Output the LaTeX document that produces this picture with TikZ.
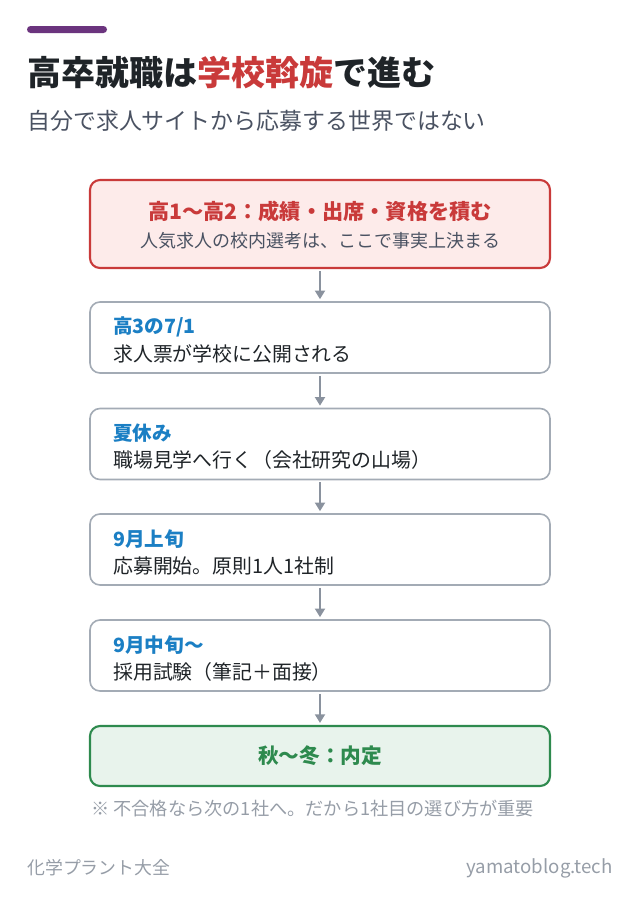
\documentclass[tikz,border=0pt]{standalone}
\usepackage{fontspec}
\setmainfont{Noto Sans CJK JP}
\usepackage{xcolor}
\usetikzlibrary{arrows.meta,positioning}

\definecolor{barpurple}{HTML}{6B347E}
\definecolor{inkdark}{HTML}{1F2428}
\definecolor{inkgray}{HTML}{4A5262}
\definecolor{accred}{HTML}{C93A3A}
\definecolor{redfill}{HTML}{FDEBEA}
\definecolor{boxgray}{HTML}{A3ABB5}
\definecolor{arrowgray}{HTML}{8A929E}
\definecolor{stepblue}{HTML}{1B7FC4}
\definecolor{accgreen}{HTML}{2E8A4E}
\definecolor{greenfill}{HTML}{E8F3EC}
\definecolor{notegray}{HTML}{969DA7}

\tikzset{
	stagebox/.style={draw=boxgray, line width=1.2pt, fill=white, rounded corners=7.5pt,
		minimum width=345pt, minimum height=53.25pt, inner sep=0pt},
	startbox/.style={stagebox, draw=accred, fill=redfill, line width=1.6pt, minimum height=66pt},
	endbox/.style={stagebox, draw=accgreen, fill=greenfill, line width=1.6pt, minimum height=45pt},
	stagehead/.style={anchor=west, inner sep=0pt, text=stepblue, font=\bfseries\fontsize{14.7}{17}\selectfont},
	stagetext/.style={anchor=west, inner sep=0pt, text=inkdark, font=\fontsize{14.9}{17}\selectfont},
	flow/.style={draw=arrowgray, line width=1.5pt, -{Triangle[width=7.5pt,length=6.5pt]}, shorten <=1.5pt, shorten >=1.5pt}
}

\begin{document}
\begin{tikzpicture}[x=0.75pt,y=-0.75pt]
	\useasboundingbox (0,0) rectangle (640,910);
	% heading
	\fill[barpurple, rounded corners=2.6pt] (27,26) rectangle (107,33);
	\node[anchor=west, inner sep=0pt, text=inkdark, font=\bfseries\fontsize{25.5}{30}\selectfont] (title) at (27,73)
		{高卒就職は{\color{accred}学校斡旋}で進む};
	\node[anchor=west, inner sep=0pt, text=inkgray, font=\fontsize{17.2}{20}\selectfont] (subtitle) at (27,121)
		{自分で求人サイトから応募する世界ではない};
	% stages
	\node[startbox] (b1) at (320,224) {};
	\node[inner sep=0pt, text=accred, font=\bfseries\fontsize{15.9}{18}\selectfont] (h1) at (320,211)
		{高1〜高2：成績・出席・資格を積む};
	\node[inner sep=0pt, text=inkgray, font=\fontsize{13.5}{16}\selectfont] (t1) at (320,241)
		{人気求人の校内選考は、ここで事実上決まる};
	\node[stagebox] (b2) at (320,337.5) {};
	\node[stagehead] (h2) at (113,327) {高3の7/1};
	\node[stagetext] (t2) at (113,354) {求人票が学校に公開される};
	\node[stagebox] (b3) at (320,444) {};
	\node[stagehead] (h3) at (113,433) {夏休み};
	\node[stagetext] (t3) at (113,460) {職場見学へ行く（会社研究の山場）};
	\node[stagebox] (b4) at (320,549.5) {};
	\node[stagehead] (h4) at (113,539) {9月上旬};
	\node[stagetext] (t4) at (113,566) {応募開始。原則1人1社制};
	\node[stagebox] (b5) at (320,655.5) {};
	\node[stagehead] (h5) at (113,645) {9月中旬〜};
	\node[stagetext] (t5) at (113,672) {採用試験（筆記＋面接）};
	\node[endbox] (b6) at (320,756) {};
	\node[inner sep=0pt, text=accgreen, font=\bfseries\fontsize{15.5}{18}\selectfont] (h6) at (320,756)
		{秋〜冬：内定};
	% arrows
	\draw[flow] (b1) -- (b2);
	\draw[flow] (b2) -- (b3);
	\draw[flow] (b3) -- (b4);
	\draw[flow] (b4) -- (b5);
	\draw[flow] (b5) -- (b6);
	% note and footer
	\node[anchor=west, inner sep=0pt, text=notegray, font=\fontsize{13.65}{16}\selectfont] (note) at (91,809)
		{※ 不合格なら次の1社へ。だから1社目の選び方が重要};
	\node[anchor=west, inner sep=0pt, text=notegray, font=\fontsize{13.4}{16}\selectfont] (brand) at (27,868)
		{化学プラント大全};
	\node[anchor=east, inner sep=0pt, text=notegray, font=\fontsize{14}{16}\selectfont] (site) at (613,868)
		{yamatoblog.tech};
\end{tikzpicture}
\end{document}
